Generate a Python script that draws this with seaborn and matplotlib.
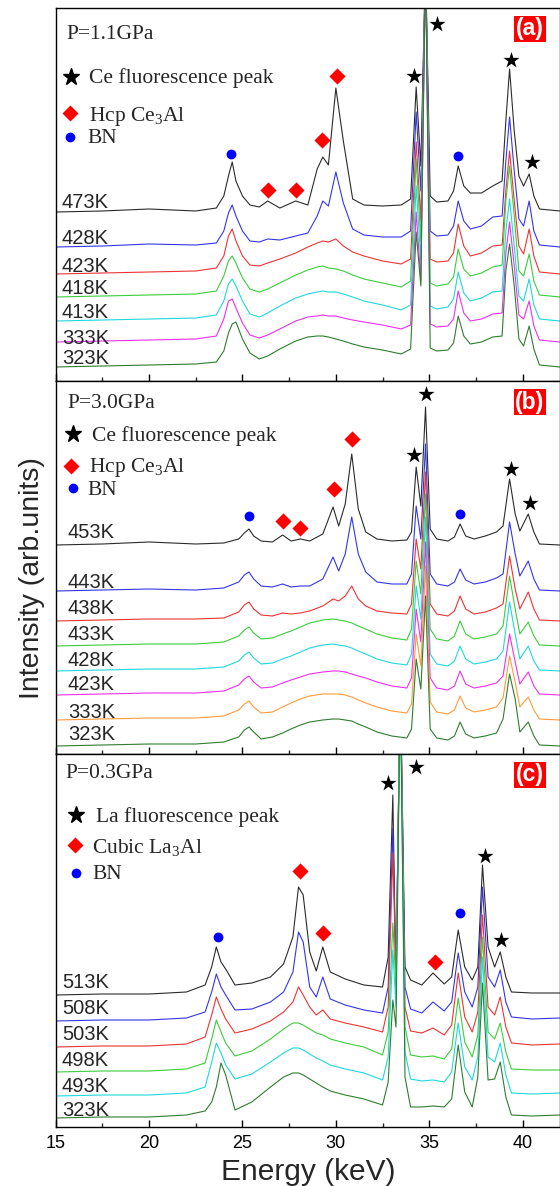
import numpy as np
import pandas as pd
import seaborn as sns
import matplotlib.pyplot as plt
from matplotlib.ticker import MultipleLocator

# =========================
# Data (energy in keV, intensity in arb. units)
# =========================
# ---- panel (a): P = 1.1 GPa ----
energy_a = [15.0, 17.5, 20.0, 22.5, 23.6, 24.0, 24.25, 24.45, 24.65, 25.0, 25.4, 25.9,
            26.35, 27.0, 27.85, 28.5, 29.0, 29.3, 29.6, 30.0, 30.4, 30.9, 31.5, 32.5,
            33.5, 34.0, 34.3, 34.55, 34.8, 35.05, 35.4, 36.0, 36.3, 36.55, 36.85, 37.2,
            37.8, 38.4, 38.9, 39.1, 39.3, 39.55, 39.8, 40.05, 40.35, 40.6, 40.9, 42.0]
temps_a = ["473K", "428K", "423K", "418K", "413K", "333K", "323K"]
a_473 = [169, 170, 172, 170, 173, 185, 205, 219, 200, 185, 176, 174, 180, 173, 180, 176,
         212, 224, 216, 293, 240, 182, 176, 175, 176, 182, 294, 215, 420, 185, 179, 180,
         190, 215, 195, 188, 188, 195, 200, 260, 312, 250, 205, 195, 207, 185, 172, 170]
a_428 = [134, 135, 137, 136, 138, 150, 168, 176, 165, 150, 140, 139, 142, 141, 145, 148,
         165, 180, 175, 209, 178, 152, 146, 144, 144, 150, 269, 190, 420, 150, 145, 146,
         155, 180, 160, 152, 155, 164, 165, 220, 264, 210, 162, 155, 180, 150, 136, 134]
a_423 = [107, 108, 109, 110, 113, 125, 145, 152, 140, 125, 116, 115, 118, 122, 128, 134,
         138, 140, 139, 142, 135, 129, 125, 120, 117, 122, 239, 160, 420, 122, 119, 120,
         128, 157, 135, 125, 128, 135, 136, 190, 230, 180, 135, 127, 152, 125, 109, 107]
a_418 = [84, 85, 86, 87, 90, 105, 120, 125, 118, 103, 92, 89, 92, 98, 106, 111,
         114, 115, 113, 112, 110, 106, 102, 98, 94, 100, 222, 140, 420, 98, 95, 97,
         104, 132, 112, 105, 108, 114, 116, 180, 215, 165, 110, 105, 127, 100, 86, 84]
a_413 = [60, 61, 62, 63, 66, 80, 97, 102, 95, 80, 67, 64, 68, 75, 83, 87,
         89, 90, 89, 89, 87, 84, 80, 76, 71, 76, 195, 120, 420, 75, 72, 74,
         82, 109, 88, 80, 83, 89, 90, 150, 182, 135, 85, 80, 102, 76, 62, 60]
a_333 = [39, 40, 41, 42, 45, 62, 80, 82, 73, 58, 46, 43, 46, 52, 60, 64,
         65, 66, 65, 65, 63, 61, 59, 56, 52, 56, 169, 100, 420, 57, 54, 55,
         62, 90, 68, 60, 62, 67, 68, 128, 159, 115, 66, 62, 80, 55, 41, 39]
a_323 = [14, 15, 16, 17, 19, 30, 48, 57, 59, 42, 28, 22, 25, 32, 40, 44,
         45, 45, 44, 42, 40, 37, 34, 31, 27, 32, 149, 95, 420, 33, 30, 31,
         38, 65, 45, 37, 39, 44, 45, 110, 137, 95, 42, 35, 55, 32, 16, 14]
stars_a = ([34.2, 35.39, 39.4, 40.5], [305, 357, 321, 219])
diamonds_a = ([26.36, 27.87, 29.28, 30.05], [191, 191, 241, 305])
dots_a = ([24.4, 36.54], [227, 225])

# ---- panel (b): P = 3.0 GPa ----
energy_b = [15.0, 17.5, 20.0, 22.5, 24.0, 24.8, 25.1, 25.35, 25.6, 26.0, 26.6, 27.15,
            27.6, 28.1, 28.6, 29.3, 29.85, 30.15, 30.5, 30.85, 31.2, 31.6, 32.2, 33.0,
            33.8, 34.05, 34.3, 34.55, 34.8, 35.05, 35.4, 36.0, 36.35, 36.65, 36.95, 37.4,
            38.0, 38.6, 38.95, 39.3, 39.6, 39.85, 40.3, 40.6, 40.9, 42.0]
temps_b = ["453K", "443K", "438K", "433K", "428K", "423K", "333K", "323K"]
b_453 = [209, 210, 212, 210, 211, 215, 221, 225, 218, 213, 212, 219, 213, 215, 213, 220,
         247, 228, 250, 300, 245, 222, 215, 213, 214, 222, 287, 248, 347, 225, 215, 213,
         217, 230, 218, 215, 218, 222, 228, 275, 240, 223, 240, 222, 210, 209]
b_443 = [163, 164, 165, 164, 166, 172, 179, 182, 175, 168, 167, 170, 167, 168, 168, 175,
         197, 183, 200, 237, 200, 182, 172, 170, 170, 180, 248, 215, 310, 180, 170, 168,
         172, 185, 174, 170, 172, 176, 180, 232, 200, 178, 193, 175, 164, 163]
b_438 = [133, 134, 135, 135, 136, 142, 149, 152, 145, 139, 138, 141, 140, 141, 143, 148,
         155, 153, 158, 168, 155, 148, 143, 141, 140, 150, 215, 185, 282, 150, 140, 138,
         143, 158, 145, 140, 142, 146, 150, 198, 165, 145, 162, 145, 134, 133]
b_433 = [108, 109, 110, 110, 112, 118, 124, 127, 121, 115, 116, 120, 123, 127, 131, 134,
         135, 134, 133, 131, 128, 125, 120, 116, 114, 125, 193, 160, 260, 125, 115, 113,
         118, 133, 120, 115, 117, 120, 128, 178, 145, 120, 132, 118, 109, 108]
b_428 = [83, 84, 85, 85, 87, 93, 99, 102, 96, 90, 91, 95, 98, 102, 106, 109,
         110, 109, 108, 106, 103, 100, 95, 91, 89, 100, 168, 135, 237, 100, 90, 88,
         93, 108, 95, 90, 92, 95, 103, 152, 120, 95, 108, 93, 84, 83]
b_423 = [59, 60, 61, 61, 63, 69, 75, 78, 72, 66, 67, 71, 74, 77, 80, 82,
         83, 83, 82, 80, 78, 76, 72, 68, 66, 76, 145, 112, 212, 76, 66, 64,
         68, 83, 70, 66, 68, 71, 78, 120, 92, 70, 82, 68, 60, 59]
b_333 = [34, 35, 36, 36, 38, 44, 50, 53, 47, 41, 42, 47, 51, 55, 58, 60,
         60, 60, 59, 57, 54, 51, 47, 43, 41, 50, 120, 88, 188, 52, 42, 40,
         44, 58, 46, 42, 44, 47, 56, 98, 72, 47, 57, 44, 35, 34]
b_323 = [8, 9, 10, 10, 12, 17, 24, 27, 22, 15, 17, 21, 25, 29, 32, 34,
         35, 35, 34, 33, 30, 27, 22, 18, 16, 25, 95, 65, 158, 25, 16, 14,
         18, 32, 20, 16, 18, 21, 35, 80, 55, 22, 32, 18, 9, 8]
stars_b = ([34.18, 34.8, 39.36, 40.42], [299, 360, 285, 251])
diamonds_b = ([27.17, 28.1, 29.9, 30.86], [233, 226, 265, 315])
dots_b = ([25.35, 36.67], [238, 240])

# ---- panel (c): P = 0.3 GPa ----
energy_c = [15.0, 17.5, 20.0, 22.0, 23.0, 23.35, 23.6, 23.85, 24.1, 24.6, 25.5, 26.5,
            27.2, 27.7, 28.0, 28.25, 28.6, 28.95, 29.3, 29.7, 30.5, 31.5, 32.5, 32.8,
            33.05, 33.22, 33.45, 33.7, 34.0, 34.6, 35.2, 35.8, 36.2, 36.55, 36.9, 37.3,
            37.6, 37.85, 38.15, 38.5, 38.8, 39.1, 39.4, 40.5, 42.0]
temps_c = ["513K", "508K", "503K", "498K", "493K", "323K"]
c_513 = [132, 133, 133, 135, 142, 160, 180, 165, 158, 142, 144, 150, 163, 190, 240, 232,
         175, 156, 180, 155, 148, 142, 140, 170, 332, 139, 450, 160, 147, 142, 154, 143,
         150, 197, 160, 147, 160, 262, 180, 160, 175, 150, 135, 134, 134]
c_508 = [106, 107, 107, 109, 115, 135, 153, 140, 132, 117, 118, 125, 135, 155, 195, 185,
         140, 130, 150, 128, 122, 117, 114, 140, 299, 150, 450, 140, 118, 114, 125, 116,
         125, 174, 135, 120, 140, 240, 150, 140, 157, 125, 110, 108, 109]
c_503 = [80, 81, 81, 83, 90, 112, 130, 118, 108, 94, 98, 106, 115, 125, 140, 132,
         120, 112, 117, 108, 104, 100, 95, 120, 274, 150, 450, 120, 96, 94, 99, 92,
         102, 154, 110, 95, 115, 212, 120, 112, 130, 100, 84, 82, 83]
c_498 = [55, 56, 56, 58, 64, 88, 107, 95, 84, 71, 76, 88, 98, 104, 104, 102,
         98, 94, 92, 88, 84, 80, 72, 95, 204, 140, 450, 100, 72, 70, 71, 68,
         78, 129, 85, 70, 92, 190, 95, 88, 104, 75, 58, 57, 57]
c_493 = [31, 32, 32, 34, 40, 65, 84, 74, 62, 48, 53, 65, 74, 79, 79, 77,
         73, 69, 66, 62, 58, 54, 47, 70, 177, 120, 450, 75, 48, 46, 47, 45,
         55, 104, 60, 47, 70, 170, 70, 65, 84, 52, 34, 33, 34]
c_323 = [9, 10, 10, 12, 16, 25, 40, 64, 52, 17, 25, 40, 50, 54, 54, 52,
         48, 44, 40, 36, 32, 28, 22, 45, 127, 100, 450, 50, 20, 20, 21, 20,
         28, 82, 35, 20, 50, 144, 47, 48, 65, 30, 12, 11, 12]
stars_c = ([32.8, 34.3, 37.98, 38.85], [344, 360, 271, 187])
diamonds_c = ([28.08, 29.33, 35.29], [256, 194, 165])
dots_c = ([23.68, 36.63], [190, 214])

# =========================
# Styles
# =========================
C_BLACK, C_BLUE, C_RED = "#2b2b2b", "#3535e8", "#ec3434"
C_GREEN, C_CYAN, C_MAG = "#3ccc3c", "#1fd8dc", "#ec30ec"
C_ORANGE, C_DKGREEN = "#ff9a3a", "#2f7d2f"
colors_a = [C_BLACK, C_BLUE, C_RED, C_GREEN, C_CYAN, C_MAG, C_DKGREEN]
colors_b = [C_BLACK, C_BLUE, C_RED, C_GREEN, C_CYAN, C_MAG, C_ORANGE, C_DKGREEN]
colors_c = [C_BLACK, C_BLUE, C_RED, C_GREEN, C_CYAN, C_DKGREEN]

sns.set_theme(style="ticks")
plt.rcParams["font.family"] = ["Liberation Sans", "DejaVu Sans"]
plt.rcParams["mathtext.fontset"] = "custom"
plt.rcParams["mathtext.rm"] = "Liberation Serif"
plt.rcParams["mathtext.it"] = "Liberation Serif:italic"

SERIF = "Liberation Serif"
LEFT, WIDTH, HEIGHT = 55.7, 504.3, 373.0


def frac(ax_top, x, y):
    # pixel position of the reference -> axes fraction of a panel
    return (x - LEFT) / WIDTH, 1 - (y - ax_top) / HEIGHT


def to_long(energy, temps, spectra):
    frames = []
    for t, vals in zip(temps, spectra):
        frames.append(pd.DataFrame({"Energy": energy, "Intensity": vals, "T": t}))
    return pd.concat(frames, ignore_index=True)


def draw_panel(ax, top, energy, temps, spectra, colors, stars, diamonds, dots,
               pressure, element, phase, tag, label_x, label_y, legend_px):
    df = to_long(energy, temps, spectra)
    sns.lineplot(data=df, x="Energy", y="Intensity", hue="T", hue_order=temps,
                 palette=colors, estimator=None, sort=False, lw=0.8,
                 legend=False, ax=ax)
    sns.scatterplot(x=stars[0], y=stars[1], marker="*", s=150, color="black",
                    linewidth=0, ax=ax, zorder=5, legend=False)
    sns.scatterplot(x=diamonds[0], y=diamonds[1], marker="D", s=68, color="#ff0000",
                    linewidth=0, ax=ax, zorder=5, legend=False)
    sns.scatterplot(x=dots[0], y=dots[1], marker="o", s=50, color="#0000ff",
                    linewidth=0, ax=ax, zorder=5, legend=False)

    # temperature labels
    for t, yy in zip(temps, label_y):
        fx, fy = frac(top, label_x, yy + 6.5)
        ax.text(fx, fy, t, transform=ax.transAxes, ha="left", va="baseline",
                fontsize=14.5)

    # pressure and symbol legend
    (px, py), (sx, sy, stx, sty), (dx, dy, dtx, dty), (ox, oy, otx, oty) = legend_px
    ax.text(*frac(top, px, py), pressure, transform=ax.transAxes, va="baseline",
            family=SERIF, fontsize=15.5)
    ax.plot(*frac(top, sx, sy), "*", ms=12.5, color="black", transform=ax.transAxes)
    ax.text(*frac(top, stx, sty), f"{element} fluorescence peak", transform=ax.transAxes,
            va="baseline", family=SERIF, fontsize=15.5)
    ax.plot(*frac(top, dx, dy), "D", ms=8.2, color="#ff0000", mec="none",
            transform=ax.transAxes)
    ax.text(*frac(top, dtx, dty), phase, transform=ax.transAxes,
            va="baseline", family=SERIF, fontsize=15.5)
    ax.plot(*frac(top, ox, oy), "o", ms=7, color="#0000ff", mec="none",
            transform=ax.transAxes)
    ax.text(*frac(top, otx, oty), "BN", transform=ax.transAxes,
            va="baseline", family=SERIF, fontsize=15.5)

    # panel tag
    ax.text(*frac(top, 530, top + 21), tag, transform=ax.transAxes, ha="center",
            va="center", color="white", fontsize=16.5, fontweight="bold",
            bbox=dict(boxstyle="square,pad=0.08", fc="#ff0000", ec="none"))

    ax.set_xlim(15, 42)
    ax.set_ylim(0, HEIGHT)
    ax.xaxis.set_major_locator(MultipleLocator(5))
    ax.xaxis.set_minor_locator(MultipleLocator(2.5))
    ax.tick_params(axis="x", which="major", direction="in", length=5, width=1,
                   bottom=True, top=False, labelsize=13, pad=6, colors="black")
    ax.tick_params(axis="x", which="minor", direction="in", length=3, width=1,
                   bottom=True, top=False)
    ax.tick_params(axis="y", left=False, labelleft=False)
    ax.set_xlabel("")
    ax.set_ylabel("")
    for sp in ax.spines.values():
        sp.set_visible(True)
        sp.set_linewidth(1.0)
        sp.set_color("black")


# =========================
# Figure
# =========================
fig, axes = plt.subplots(3, 1, figsize=(5.6, 11.86), dpi=100, sharex=True)
fig.subplots_adjust(left=LEFT / 560, right=1.0, top=1 - 8 / 1186,
                    bottom=1 - 1127 / 1186, hspace=0)

draw_panel(axes[0], 8, energy_a, temps_a,
           [a_473, a_428, a_423, a_418, a_413, a_333, a_323], colors_a,
           stars_a, diamonds_a, dots_a, "P=1.1GPa", "Ce",
           r"Hcp Ce$_\mathrm{3}$Al", "(a)", 62,
           [202, 237, 265, 288, 312, 337, 358],
           [(66, 39), (71, 77, 89, 83), (70, 113, 89, 121), (70, 137, 87, 143)])

draw_panel(axes[1], 382, energy_b, temps_b,
           [b_453, b_443, b_438, b_433, b_428, b_423, b_333, b_323], colors_b,
           stars_b, diamonds_b, dots_b, "P=3.0GPa", "Ce",
           r"Hcp Ce$_\mathrm{3}$Al", "(b)", 68,
           [533, 583, 608, 635, 660, 685, 712, 735],
           [(67, 409), (73, 435, 92, 442), (71, 467, 89, 473), (73, 489, 87, 496)])

draw_panel(axes[2], 755, energy_c, temps_c,
           [c_513, c_508, c_503, c_498, c_493, c_323], colors_c,
           stars_c, diamonds_c, dots_c, "P=0.3GPa", "La",
           r"Cubic La$_\mathrm{3}$Al", "(c)", 62,
           [983, 1009, 1035, 1060, 1087, 1110],
           [(65, 779), (76, 816, 96, 823), (75, 846, 92, 854), (76, 874, 92, 880)])

for ax in axes[:2]:
    ax.tick_params(axis="x", labelbottom=False)

fig.text(32 / 560, 1 - 578 / 1186, "Intensity (arb.units)", rotation=90,
         ha="center", va="center", fontsize=20.5)
fig.text(308 / 560, 1 - 1180 / 1186, "Energy (keV)", ha="center",
         va="baseline", fontsize=21.5)

plt.savefig("out.png", dpi=100)
plt.close(fig)
